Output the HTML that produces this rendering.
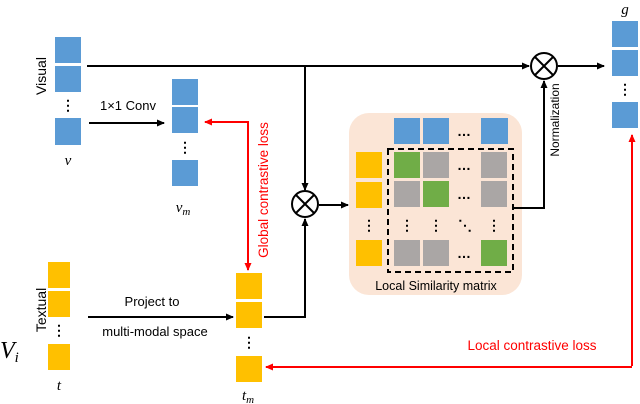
<!DOCTYPE html>
<html><head><style>body{margin:0;background:#fff}svg{display:block}</style></head><body>
<svg width="640" height="404" viewBox="0 0 640 404" xmlns="http://www.w3.org/2000/svg" font-family="Liberation Sans, sans-serif">
<defs>
<marker id="a" markerWidth="8" markerHeight="8" refX="7" refY="4" orient="auto" markerUnits="userSpaceOnUse"><path d="M0,0.5 L8,4 L0,7.5z" fill="#000"/></marker>
<marker id="r" markerWidth="8" markerHeight="8" refX="7" refY="4" orient="auto" markerUnits="userSpaceOnUse"><path d="M0,0.5 L8,4 L0,7.5z" fill="#f00"/></marker>
</defs>
<g fill="#5b9bd5">
<rect x="55" y="37" width="26" height="26"/><rect x="55" y="66" width="26" height="26"/><rect x="55" y="118" width="26" height="27"/>
<rect x="172" y="79" width="26" height="26"/><rect x="172" y="107" width="26" height="26"/><rect x="172" y="160" width="26" height="26"/>
<rect x="612" y="21" width="26" height="26"/><rect x="612" y="50" width="26" height="26"/><rect x="612" y="102" width="26" height="26"/>
</g>
<g fill="#ffc000">
<rect x="48" y="262" width="22" height="26"/><rect x="48" y="291" width="22" height="26"/><rect x="48" y="344" width="22" height="26"/>
<rect x="236" y="273" width="26" height="26"/><rect x="236" y="302" width="26" height="26"/><rect x="236" y="356" width="26" height="26"/>
</g>
<rect x="349" y="113" width="173" height="182" rx="20" fill="#fbe5d6"/>
<g fill="#5b9bd5"><rect x="394" y="118" width="26" height="26"/><rect x="423" y="118" width="26" height="26"/><rect x="481" y="118" width="27" height="26"/></g>
<g fill="#ffc000"><rect x="356" y="152" width="26" height="26"/><rect x="356" y="182" width="26" height="26"/><rect x="356" y="240" width="26" height="26"/></g>
<g fill="#aaa6a5">
<rect x="423" y="152" width="26" height="26"/><rect x="481" y="152" width="26" height="26"/>
<rect x="394" y="181" width="26" height="26"/><rect x="481" y="181" width="26" height="26"/>
<rect x="394" y="240" width="26" height="26"/><rect x="423" y="240" width="26" height="26"/>
</g>
<g fill="#70ad47"><rect x="394" y="152" width="26" height="26"/><rect x="423" y="181" width="26" height="26"/><rect x="481" y="240" width="26" height="26"/></g>
<rect x="388" y="149" width="125" height="123" fill="none" stroke="#000" stroke-width="2" stroke-dasharray="6,4"/>
<g font-size="14" fill="#000" text-anchor="middle" font-weight="bold">
<text x="68" y="110">⋮</text><text x="185" y="152">⋮</text><text x="625" y="94">⋮</text>
<text x="59" y="335">⋮</text><text x="249" y="347">⋮</text>
<text x="369" y="230">⋮</text><text x="407" y="230">⋮</text><text x="436" y="230">⋮</text><text x="494" y="230">⋮</text><text x="465" y="230">⋱</text>
<text x="464" y="136">…</text><text x="464" y="170">…</text><text x="464" y="199">…</text><text x="464" y="258">…</text>
</g>
<g stroke="#000" stroke-width="2" fill="none">
<path d="M87,66 H529" marker-end="url(#a)"/>
<path d="M558,66 H604" marker-end="url(#a)"/>
<path d="M305,66 V190" marker-end="url(#a)"/>
<path d="M264,317 H305 V219" marker-end="url(#a)"/>
<path d="M319,205 H348" marker-end="url(#a)"/>
<path d="M89,123 H164" marker-end="url(#a)"/>
<path d="M88,317 H233" marker-end="url(#a)"/>
<path d="M513,208 H544 V81" marker-end="url(#a)"/>
<circle cx="544" cy="66" r="13"/><path d="M535,57 L553,75 M553,57 L535,75"/>
<circle cx="305" cy="204" r="13"/><path d="M296,195 L314,213 M314,195 L296,213"/>
</g>
<g stroke="#f00" stroke-width="2" fill="none">
<path d="M248,268 V122 H205" marker-end="url(#r)"/>
<path d="M248,200 V270" marker-end="url(#r)"/>
<path d="M632,366 V135" marker-end="url(#r)"/>
<path d="M632,367 H266" marker-end="url(#r)"/>
</g>
<g font-size="13" fill="#000">
<text x="128" y="110" text-anchor="middle">1×1 Conv</text>
<text x="152" y="306" text-anchor="middle">Project to</text>
<text x="155" y="336" text-anchor="middle">multi-modal space</text>
<text x="436" y="290" text-anchor="middle" font-size="12.5">Local Similarity matrix</text>
<text transform="translate(46,76) rotate(-90)" text-anchor="middle" font-size="14">Visual</text>
<text transform="translate(46,310) rotate(-90)" text-anchor="middle" font-size="14">Textual</text>
<text transform="translate(559,120) rotate(-90)" text-anchor="middle" font-size="12">Normalization</text>
</g>
<g fill="#f00" font-size="13.5">
<text transform="translate(268,190) rotate(-90)" text-anchor="middle">Global contrastive loss</text>
<text x="532" y="350" text-anchor="middle">Local contrastive loss</text>
</g>
<g font-family="Liberation Serif, serif" font-style="italic" fill="#000">
<text x="68" y="165" font-size="15" text-anchor="middle">v</text>
<text x="183" y="212" font-size="15" text-anchor="middle">v<tspan font-size="11" dy="3">m</tspan></text>
<text x="625" y="14" font-size="15" text-anchor="middle">g</text>
<text x="59" y="390" font-size="15" text-anchor="middle">t</text>
<text x="248" y="400" font-size="15" text-anchor="middle">t<tspan font-size="11" dy="3">m</tspan></text>
<text x="0" y="358" font-size="24">V<tspan font-size="15" dy="4">i</tspan></text>
</g>
</svg>
</body></html>
